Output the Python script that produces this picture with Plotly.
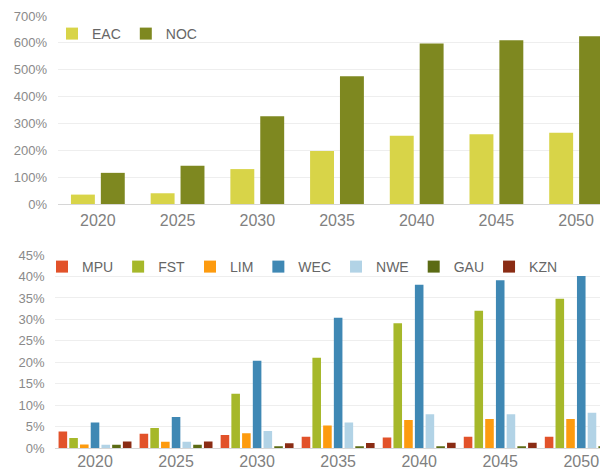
import plotly.graph_objects as go

years = ["2020", "2025", "2030", "2035", "2040", "2045", "2050"]

# Top chart (percent)
eac = [35, 40, 130, 197, 254, 260, 265]
noc = [116, 142, 327, 476, 598, 610, 625]

# Bottom chart (percent)
mpu = [3.9, 3.4, 3.1, 2.7, 2.5, 2.7, 2.7]
fst = [2.4, 4.7, 12.7, 21.1, 29.1, 32.0, 34.8]
lim = [0.9, 1.55, 3.5, 5.3, 6.6, 6.8, 6.8]
wec = [6.0, 7.3, 20.4, 30.4, 38.1, 39.1, 40.1]
nwe = [0.8, 1.55, 4.0, 6.0, 7.9, 7.9, 8.3]
gau = [0.85, 0.85, 0.5, 0.5, 0.5, 0.5, 0.5]
kzn = [1.6, 1.6, 1.2, 1.25, 1.3, 1.3, 1.3]

top_names = ["EAC", "NOC"]
top_colors = ["#d8d448", "#7e8820"]
bot_names = ["MPU", "FST", "LIM", "WEC", "NWE", "GAU", "KZN"]
bot_colors = ["#e2522a", "#a6b82a", "#fd9b0f", "#3f88b4", "#b2d3e6", "#5b6b14", "#8a2c14"]

# The page body adds an 8px margin, so the figure is sized to fill the rest
W, H = 600, 464
FONT = "Liberation Sans, Arial, sans-serif"

fig = go.Figure()

for vals, name, col, off in zip([eac, noc], top_names, top_colors, [-0.3375, 0.0375]):
    fig.add_trace(go.Bar(x=years, y=vals, name=name, marker_color=col,
                         width=0.3, offset=off, xaxis="x", yaxis="y",
                         legend="legend", marker_line_width=0))

for vals, name, col in zip([mpu, fst, lim, wec, nwe, gau, kzn], bot_names, bot_colors):
    fig.add_trace(go.Bar(x=years, y=vals, name=name, marker_color=col,
                         xaxis="x2", yaxis="y2", legend="legend2",
                         marker_line_width=0))

grid = "#eeeeee"
axis_line = "#d6d6d6"
tick_col = "#8a8a8a"

fig.update_layout(
    width=W, height=H,
    margin=dict(l=0, r=0, t=0, b=0, autoexpand=False),
    paper_bgcolor="white", plot_bgcolor="white",
    font=dict(family=FONT, color="#666666"),
    barmode="group", bargap=0.074, bargroupgap=0.2,
    xaxis=dict(domain=[50 / W, 1], range=[-0.5, 6.4], anchor="y", automargin=False,
               showgrid=False, showline=True, linecolor=axis_line, linewidth=1,
               tickfont=dict(size=16, color="#808080"), ticks="", ticklabelstandoff=2),
    yaxis=dict(domain=[1 - 196 / H, 1 - 8 / H], range=[0, 700], dtick=100,
               ticksuffix="%", anchor="x", showgrid=True, gridcolor=grid, automargin=False,
               zeroline=False, tickfont=dict(size=13, color=tick_col),
               ticklabelstandoff=10),
    xaxis2=dict(domain=[46.5 / W, 1], range=[-0.5, 6.33], anchor="y2", automargin=False,
                showgrid=False, showline=True, linecolor=axis_line, linewidth=1,
                tickfont=dict(size=16, color="#808080"), ticks="", ticklabelstandoff=-2),
    yaxis2=dict(domain=[1 - 440.3 / H, 1 - 247 / H], range=[0, 45], dtick=5,
                ticksuffix="%", anchor="x2", showgrid=True, gridcolor=grid, automargin=False,
                zeroline=False, tickfont=dict(size=13, color=tick_col),
                ticklabelstandoff=9),
    legend=dict(orientation="h", x=44 / W, y=1 - 10 / H, xanchor="left", yanchor="top",
                font=dict(size=14, color="#666666"), bgcolor="rgba(0,0,0,0)",
                itemwidth=30, tracegroupgap=0),
    legend2=dict(orientation="h", x=34 / W, y=1 - 243 / H, xanchor="left", yanchor="top",
                 font=dict(size=14, color="#666666"), bgcolor="rgba(0,0,0,0)",
                 itemwidth=30, tracegroupgap=0),
)

fig.write_html("out.html")
